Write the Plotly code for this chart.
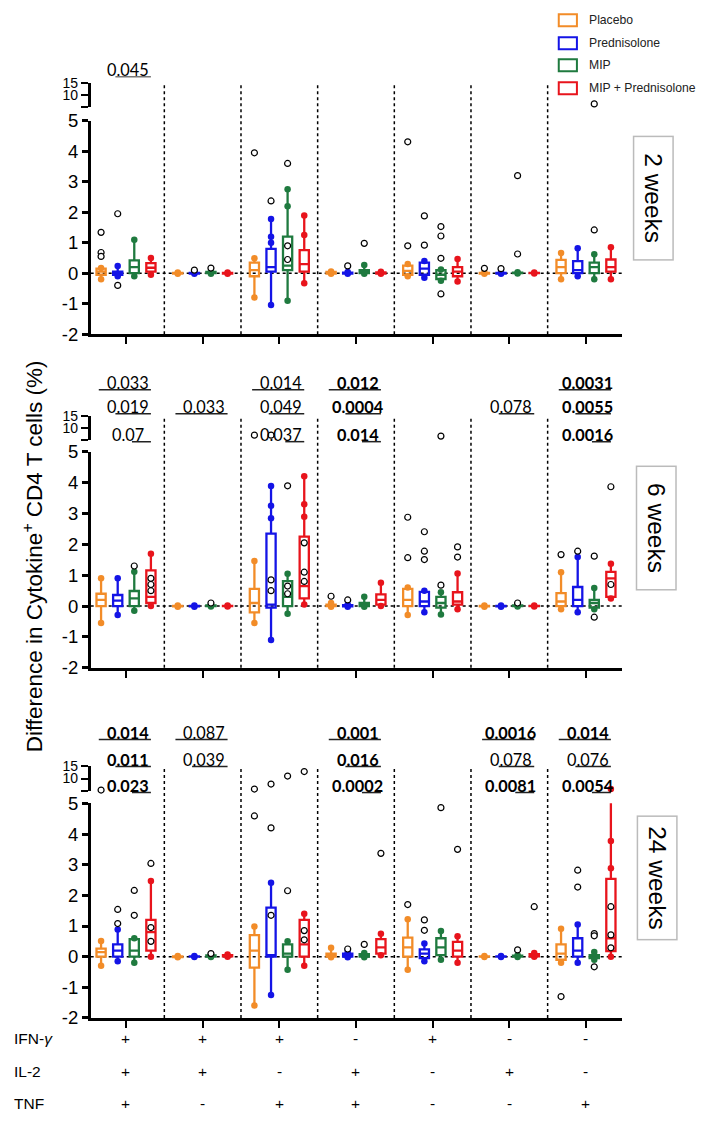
import plotly.graph_objects as go

W, H = 703, 1123
# measured mapping between figure pixels and photographed pixels (photo = A + S * figure)
SX, AX = 0.9913, 0.1
SY, AY = 0.9816, 9.7


def fx(px):
    return ((px - AX) / SX) / W


def fy(px):
    return 1 - ((px - AY) / SY) / H


# ---------------- data ----------------
SERIES = ["Placebo", "Prednisolone", "MIP", "MIP + Prednisolone"]
COLORS = ["#F28C28", "#1414E6", "#1F7A3F", "#E8141C"]
TIMEPOINTS = ["2 weeks", "6 weeks", "24 weeks"]
CYTOKINES = ["IFN-<i>γ</i>", "IL-2", "TNF"]
IFNG = ["+", "+", "+", "-", "+", "-", "-"]
IL2 = ["+", "+", "-", "+", "-", "+", "-"]
TNF = ["+", "-", "+", "+", "-", "-", "+"]
Y_TICKS = [-2, -1, 0, 1, 2, 3, 4, 5]
Y_TICKS_UPPER = [5, 10, 15]
Y_TICKTEXT_UPPER = ["", "10", "15"]

# (lower whisker, Q1, median, Q3, upper whisker) for each of the 7 cytokine groups
W2_PLACEBO = [(-0.2, -0.05, 0.05, 0.15, 0.17), (-0.02, -0.01, 0.0, 0.01, 0.02), (-0.8, -0.1, 0.1, 0.35, 0.49),
              (-0.02, -0.01, 0.0, 0.04, 0.06), (-0.1, -0.05, 0.08, 0.25, 0.3), (-0.02, -0.01, 0.0, 0.01, 0.02),
              (-0.2, 0.0, 0.2, 0.44, 0.66)]
W2_PRED = [(-0.1, -0.05, 0.0, 0.05, 0.24), (-0.02, -0.01, 0.0, 0.01, 0.03), (-1.04, 0.05, 0.2, 0.8, 1.78),
           (-0.02, -0.01, 0.0, 0.02, 0.04), (-0.15, -0.05, 0.15, 0.35, 0.4), (-0.02, -0.01, 0.0, 0.01, 0.02),
           (-0.1, 0.0, 0.1, 0.4, 0.82)]
W2_MIP = [(-0.1, 0.0, 0.2, 0.42, 1.1), (-0.02, 0.0, 0.01, 0.04, 0.06), (-0.9, 0.1, 0.25, 1.2, 2.75),
          (-0.02, 0.0, 0.03, 0.1, 0.27), (-0.25, -0.19, -0.05, 0.1, 0.12), (-0.01, 0.0, 0.01, 0.02, 0.03),
          (-0.2, 0.0, 0.2, 0.35, 0.62)]
W2_MIPPRED = [(-0.05, 0.05, 0.18, 0.33, 0.5), (-0.02, -0.01, 0.0, 0.01, 0.02), (-0.33, 0.05, 0.3, 0.76, 1.89),
              (-0.02, -0.01, 0.0, 0.03, 0.05), (-0.27, -0.1, 0.05, 0.2, 0.47), (-0.01, 0.0, 0.0, 0.01, 0.02),
              (-0.2, 0.05, 0.2, 0.45, 0.85)]

W6_PLACEBO = [(-0.55, 0.0, 0.2, 0.4, 0.9), (-0.02, -0.01, 0.0, 0.01, 0.02), (-0.55, -0.2, 0.1, 0.56, 1.46),
              (-0.02, 0.0, 0.02, 0.05, 0.1), (-0.29, 0.0, 0.2, 0.56, 0.6), (-0.02, -0.01, 0.0, 0.01, 0.02),
              (-0.1, 0.0, 0.15, 0.42, 1.1)]
W6_PRED = [(-0.29, 0.0, 0.18, 0.36, 0.9), (-0.02, -0.01, 0.0, 0.01, 0.02), (-1.1, -0.05, 0.05, 2.35, 3.89),
           (-0.02, -0.01, 0.0, 0.03, 0.05), (-0.2, 0.0, 0.15, 0.46, 0.5), (-0.02, -0.01, 0.0, 0.01, 0.02),
           (-0.2, 0.0, 0.2, 0.62, 1.59)]
W6_MIP = [(-0.15, 0.0, 0.25, 0.49, 1.11), (-0.01, 0.0, 0.01, 0.02, 0.03), (-0.25, 0.0, 0.3, 0.81, 1.05),
          (-0.02, 0.0, 0.05, 0.1, 0.3), (-0.27, -0.05, 0.1, 0.3, 0.45), (-0.01, 0.0, 0.01, 0.02, 0.03),
          (-0.1, -0.05, 0.1, 0.2, 0.59)]
W6_MIPPRED = [(0.0, 0.1, 0.3, 1.16, 1.7), (-0.01, 0.0, 0.0, 0.01, 0.02), (0.05, 0.25, 0.65, 2.25, 4.21),
              (0.0, 0.05, 0.2, 0.38, 0.76), (-0.1, 0.05, 0.15, 0.45, 1.06), (-0.01, 0.0, 0.0, 0.01, 0.02),
              (0.25, 0.3, 0.9, 1.11, 1.37)]

W24_PLACEBO = [(-0.3, 0.0, 0.15, 0.26, 0.51), (-0.02, -0.01, 0.0, 0.01, 0.02), (-1.59, -0.36, 0.2, 0.7, 0.98),
               (-0.02, 0.0, 0.05, 0.1, 0.29), (-0.43, 0.0, 0.3, 0.62, 1.22), (-0.01, 0.0, 0.0, 0.01, 0.02),
               (-0.2, -0.1, 0.1, 0.4, 0.91)]
W24_PRED = [(-0.15, 0.0, 0.2, 0.4, 0.89), (-0.01, 0.0, 0.0, 0.01, 0.02), (-1.25, 0.0, 0.05, 1.6, 2.41),
            (-0.02, 0.0, 0.03, 0.1, 0.15), (-0.15, -0.05, 0.1, 0.24, 0.43), (-0.01, 0.0, 0.0, 0.01, 0.02),
            (-0.2, 0.0, 0.2, 0.6, 1.05)]
W24_MIP = [(-0.2, 0.0, 0.2, 0.57, 0.6), (-0.01, 0.0, 0.02, 0.04, 0.06), (-0.43, 0.0, 0.1, 0.4, 0.5),
           (-0.02, 0.0, 0.03, 0.08, 0.12), (-0.1, 0.05, 0.3, 0.6, 0.84), (-0.01, 0.0, 0.01, 0.03, 0.05),
           (-0.1, -0.05, 0.0, 0.05, 0.15)]
W24_MIPPRED = [(0.0, 0.2, 0.8, 1.2, 2.47), (0.0, 0.01, 0.03, 0.05, 0.07), (-0.3, 0.0, 0.4, 1.2, 1.4),
               (0.05, 0.1, 0.3, 0.57, 0.75), (-0.2, 0.0, 0.2, 0.48, 0.67), (0.0, 0.01, 0.03, 0.08, 0.12),
               (0.0, 0.18, 0.6, 2.54, 5.8)]

# individual points shown as open circles: (group, series, value)
W2_POINTS = [(0, 0, 1.34), (0, 0, 0.68), (0, 0, 0.55), (0, 1, 1.95), (0, 1, -0.4), (1, 1, 0.1), (1, 2, 0.17),
             (2, 0, 3.95), (2, 1, 2.37), (2, 2, 3.6), (2, 2, 0.9), (2, 2, 0.45), (3, 1, 0.24), (3, 2, 0.98),
             (4, 0, 4.31), (4, 0, 0.9), (4, 1, 1.88), (4, 1, 0.92), (4, 2, 1.53), (4, 2, 1.22), (4, 2, 0.49),
             (4, 2, -0.68), (5, 0, 0.16), (5, 1, 0.15), (5, 2, 3.2), (5, 2, 0.63), (6, 2, 1.42), (6, 2, 6.3)]
W6_POINTS = [(0, 2, 1.3), (0, 3, 0.9), (0, 3, 0.7), (0, 3, 0.5), (1, 2, 0.1), (2, 0, 7.1), (2, 1, 7.1),
             (2, 1, 0.85), (2, 1, 0.5), (2, 2, 3.9), (2, 2, 0.65), (2, 2, 0.4), (2, 3, 2.05), (2, 3, 1.1),
             (2, 3, 0.8), (3, 0, 0.32), (3, 1, 0.2), (4, 0, 2.88), (4, 0, 1.57), (4, 1, 2.41), (4, 1, 1.78),
             (4, 1, 1.51), (4, 2, 6.7), (4, 2, 0.68), (4, 3, 1.92), (4, 3, 1.59), (5, 2, 0.1), (6, 0, 1.67),
             (6, 1, 1.78), (6, 2, 1.62), (6, 2, -0.36), (6, 3, 3.87), (6, 3, 0.7)]
W24_POINTS = [(0, 0, 5.4), (0, 1, 1.54), (0, 1, 1.08), (0, 2, 2.16), (0, 2, 1.35), (0, 3, 3.04), (0, 3, 0.95),
              (0, 3, 0.5), (1, 2, 0.1), (2, 0, 5.8), (2, 0, 4.59), (2, 1, 7.8), (2, 1, 4.2), (2, 1, 1.35),
              (2, 2, 11.0), (2, 2, 2.15), (2, 3, 12.8), (2, 3, 0.85), (2, 3, 0.55), (3, 1, 0.25), (3, 2, 0.4),
              (3, 3, 3.37), (4, 0, 1.7), (4, 1, 1.2), (4, 1, 0.86), (4, 2, 4.86), (4, 3, 3.5), (5, 2, 0.22),
              (5, 3, 1.63), (6, 0, -1.3), (6, 1, 2.82), (6, 1, 2.27), (6, 2, 0.75), (6, 2, 0.68), (6, 2, -0.33),
              (6, 3, 1.63), (6, 3, 0.71), (6, 3, 0.29)]

# points drawn as filled coloured dots on the whiskers: (group, series, value)
W2_WHISKER_PTS = [(2, 1, 1.2), (2, 1, 1.0), (2, 2, 2.2), (2, 3, 1.25)]
W6_WHISKER_PTS = [(2, 1, 3.25), (2, 1, 2.85), (2, 3, 3.3), (2, 3, 2.9)]
W24_WHISKER_PTS = [(6, 3, 3.77), (6, 3, 2.88)]

# p-values: (group, row, first series of the comparison, text, bold)
W2_PVALUES = [(0, 0, 1, "0.045", False)]
W6_PVALUES = [(0, 0, 0, "0.033", False), (0, 1, 1, "0.019", False), (0, 2, 2, "0.07", False),
              (1, 1, 0, "0.033", False),
              (2, 0, 0, "0.014", False), (2, 1, 1, "0.049", False), (2, 2, 2, "0.037", False),
              (3, 0, 0, "0.012", True), (3, 1, 1, "0.0004", True), (3, 2, 2, "0.014", True),
              (5, 1, 1, "0.078", False),
              (6, 0, 0, "0.0031", True), (6, 1, 1, "0.0055", True), (6, 2, 2, "0.0016", True)]
W24_PVALUES = [(0, 0, 0, "0.014", True), (0, 1, 1, "0.011", True), (0, 2, 2, "0.023", True),
               (1, 0, 0, "0.087", False), (1, 1, 1, "0.039", False),
               (3, 0, 0, "0.001", True), (3, 1, 1, "0.016", True), (3, 2, 2, "0.0002", True),
               (5, 0, 0, "0.0016", True), (5, 1, 1, "0.078", False), (5, 2, 2, "0.0081", True),
               (6, 0, 0, "0.014", True), (6, 1, 1, "0.076", False), (6, 2, 2, "0.0054", True)]

PANEL_BOXES = [[W2_PLACEBO, W2_PRED, W2_MIP, W2_MIPPRED],
               [W6_PLACEBO, W6_PRED, W6_MIP, W6_MIPPRED],
               [W24_PLACEBO, W24_PRED, W24_MIP, W24_MIPPRED]]
PANEL_POINTS = [W2_POINTS, W6_POINTS, W24_POINTS]
PANEL_WPTS = [W2_WHISKER_PTS, W6_WHISKER_PTS, W24_WHISKER_PTS]
PANEL_PVALS = [W2_PVALUES, W6_PVALUES, W24_PVALUES]

# ---------------- layout constants (pixels of the target picture) ----------------
OFFSETS = [-0.325, -0.108, 0.108, 0.325]
BOX_W = 0.12
XRANGE = [-0.4605, 6.474]
X_DOMAIN = [fx(90), fx(617)]
LOW_PX = [(333, 119.5), (666.7, 450.7), (1017, 802.3)]
UP_PX = [(105.7, 82), (439, 415), (790, 765)]
SIG_ROWS_PX = [[67], [380, 404, 432], [730, 757, 783]]
LABEL_BOX = [(648, 197), (650.5, 526.5), (652, 877)]
TABLE_ROWS_PX = [1038, 1071, 1103]
LEGEND_ROWS_PX = [19, 42, 64, 87]

FONT = "Liberation Sans, Arial, sans-serif"
SIGFONT = "Lato, Liberation Sans, sans-serif"

fig = go.Figure()
layout = dict(width=W, height=H, margin=dict(l=0, r=0, t=0, b=0, pad=0),
              paper_bgcolor="white", plot_bgcolor="white", showlegend=False,
              boxmode="overlay")
shapes = []
annotations = []

for k in range(3):
    xn = "x" if k == 0 else f"x{k + 1}"
    xkey = "xaxis" if k == 0 else f"xaxis{k + 1}"
    li, ui = 2 * k + 1, 2 * k + 2
    yl = "y" if li == 1 else f"y{li}"
    yu = f"y{ui}"
    ylkey = "yaxis" if li == 1 else f"yaxis{li}"
    yukey = f"yaxis{ui}"

    layout[xkey] = dict(domain=X_DOMAIN, range=XRANGE, anchor=yl, showline=True, linewidth=2.5,
                        linecolor="black", ticks="outside", ticklen=7, tickwidth=2, tickcolor="black",
                        tickvals=list(range(7)), showticklabels=False, showgrid=False, zeroline=False)
    layout[ylkey] = dict(domain=[fy(LOW_PX[k][0]), fy(LOW_PX[k][1])], range=[-2, 5], anchor=xn,
                         showline=True, linewidth=2.5, linecolor="black", ticks="outside", ticklen=6,
                         tickwidth=2.5, tickcolor="black", tickvals=Y_TICKS,
                         ticktext=[str(v) for v in Y_TICKS], tickfont=dict(family=FONT, size=18.5, color="black"),
                         showgrid=False, zeroline=False)
    layout[yukey] = dict(domain=[fy(UP_PX[k][0]), fy(UP_PX[k][1])], range=[5, 15], anchor=xn,
                         showline=True, linewidth=2.5, linecolor="black", ticks="outside", ticklen=7,
                         tickwidth=2, tickcolor="black", tickvals=Y_TICKS_UPPER, ticktext=Y_TICKTEXT_UPPER,
                         tickfont=dict(family=FONT, size=14, color="black"),
                         showgrid=False, zeroline=False)

    # boxes (drawn on both segments of the broken axis; clipping makes the break)
    for s in range(4):
        stats = PANEL_BOXES[k][s]
        xs = [g + OFFSETS[s] for g in range(7)]
        for yax in (yl, yu):
            fig.add_trace(go.Box(
                x=xs, lowerfence=[t[0] for t in stats], q1=[t[1] for t in stats],
                median=[t[2] for t in stats], q3=[t[3] for t in stats],
                upperfence=[t[4] for t in stats], orientation="v", width=BOX_W, whiskerwidth=0,
                line=dict(color=COLORS[s], width=2.3), fillcolor="rgba(255,255,255,0)",
                boxpoints=False, hoverinfo="skip", xaxis=xn, yaxis=yax, showlegend=False))

    # filled dots at whisker ends and on whiskers
    for s in range(4):
        stats = PANEL_BOXES[k][s]
        pts = []
        for g, t in enumerate(stats):
            pts.append((g, t[0]))
            pts.append((g, t[4]))
        for (g, ss, v) in PANEL_WPTS[k]:
            if ss == s:
                pts.append((g, v))
        low = [(g, v) for g, v in pts if v <= 5]
        up = [(g, v) for g, v in pts if v > 5]
        for sel, yax in ((low, yl), (up, yu)):
            if sel:
                fig.add_trace(go.Scatter(
                    x=[g + OFFSETS[s] for g, _ in sel], y=[v for _, v in sel], mode="markers",
                    marker=dict(size=6.5, color=COLORS[s], line=dict(width=0)), cliponaxis=False,
                    hoverinfo="skip", xaxis=xn, yaxis=yax, showlegend=False))

    # open circles
    pts = PANEL_POINTS[k]
    low = [p for p in pts if p[2] <= 5]
    up = [p for p in pts if p[2] > 5]
    for sel, yax in ((low, yl), (up, yu)):
        fig.add_trace(go.Scatter(
            x=[g + OFFSETS[s] for g, s, _ in sel], y=[v for _, _, v in sel], mode="markers",
            marker=dict(size=6, color="white", line=dict(color="black", width=1.2)),
            cliponaxis=False, hoverinfo="skip", xaxis=xn, yaxis=yax, showlegend=False))

    # dotted zero line
    shapes.append(dict(type="line", xref=f"{xn} domain", x0=0, x1=1, yref=yl, y0=0, y1=0,
                       line=dict(color="black", width=1.5, dash="dot"), layer="below"))
    # dotted dividers between cytokine groups
    for g in range(6):
        shapes.append(dict(type="line", xref=xn, x0=g + 0.5, x1=g + 0.5, yref="paper",
                           y0=fy(LOW_PX[k][0]), y1=fy(UP_PX[k][1]),
                           line=dict(color="black", width=1.5, dash="dot"), layer="below"))

    # p-value annotations
    for (g, row, s0, txt, bold) in PANEL_PVALS[k]:
        ty = SIG_ROWS_PX[k][row]
        annotations.append(dict(xref=xn, yref="paper", x=g + 0.02, y=fy(ty + 1), showarrow=False,
                                text=f"<b>{txt}</b>" if bold else txt, xanchor="center", yanchor="middle",
                                font=dict(family=SIGFONT, size=16.3, color="black")))
        shapes.append(dict(type="line", xref=xn, x0=g + OFFSETS[s0] - 0.03, x1=g + OFFSETS[3],
                           yref="paper", y0=fy(ty + 8.5), y1=fy(ty + 8.5),
                           line=dict(color="#222222" if k else "#777777", width=1.5)))

    # timepoint label box
    cx, cy = LABEL_BOX[k]
    annotations.append(dict(xref="paper", yref="paper", x=fx(cx), y=fy(cy), showarrow=False,
                            text=TIMEPOINTS[k], textangle=90, width=114, height=30, borderpad=4,
                            bordercolor="#BBBBBB", borderwidth=1.5, bgcolor="white",
                            xanchor="center", yanchor="middle",
                            font=dict(family=FONT, size=24.5, color="black")))

# cytokine combination table under the bottom panel
for r, (name, signs) in enumerate(zip(CYTOKINES, [IFNG, IL2, TNF])):
    annotations.append(dict(xref="paper", yref="paper", x=fx(12), y=fy(TABLE_ROWS_PX[r]), showarrow=False,
                            text=name, xanchor="left", yanchor="middle",
                            font=dict(family=FONT, size=15.5, color="black")))
    for g, sg in enumerate(signs):
        annotations.append(dict(xref="x3", yref="paper", x=g, y=fy(TABLE_ROWS_PX[r]), showarrow=False,
                                text=sg, xanchor="center", yanchor="middle",
                                font=dict(family=FONT, size=15.5, color="black")))

# y-axis title
annotations.append(dict(xref="paper", yref="paper", x=fx(33), y=fy(555), showarrow=False,
                        text="Difference in Cytokine<sup>+</sup> CD4 T cells (%)", textangle=-90,
                        xanchor="center", yanchor="middle", font=dict(family=FONT, size=22.5, color="black")))

# legend
for s, name in enumerate(SERIES):
    cy = LEGEND_ROWS_PX[s]
    shapes.append(dict(type="rect", xref="paper", yref="paper", x0=fx(554), x1=fx(572),
                       y0=fy(cy + 6), y1=fy(cy - 6), line=dict(color=COLORS[s], width=2),
                       fillcolor="white"))
    annotations.append(dict(xref="paper", yref="paper", x=fx(582), y=fy(cy), showarrow=False,
                            text=name, xanchor="left", yanchor="middle",
                            font=dict(family=FONT, size=12.2, color="#222222")))

layout["shapes"] = shapes
layout["annotations"] = annotations
fig.update_layout(**layout)

POST = ("document.documentElement.style.margin='0';document.documentElement.style.padding='0';"
        "document.documentElement.style.overflow='hidden';"
        "document.body.style.margin='0';document.body.style.padding='0';"
        "document.body.style.overflow='hidden';")
fig.write_html("out.html", post_script=POST, config={"displayModeBar": False})
